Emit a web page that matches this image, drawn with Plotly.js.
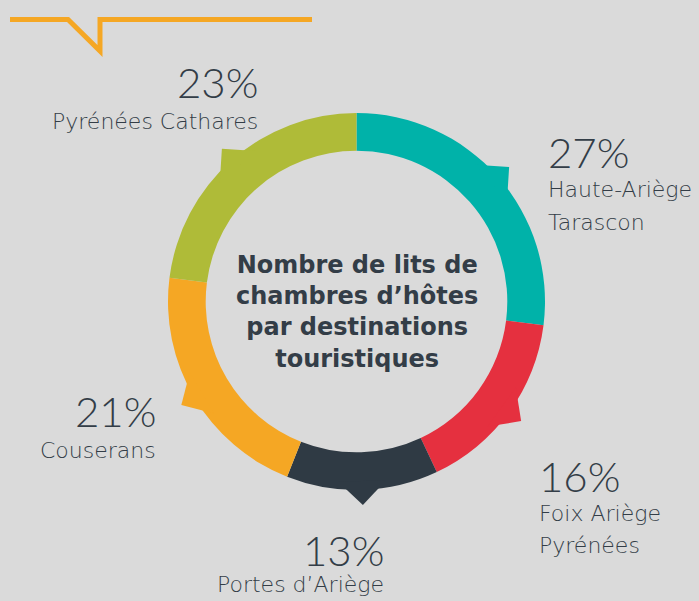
<!DOCTYPE html>
<html>
<head>
<meta charset="utf-8">
<script src="https://cdn.plot.ly/plotly-3.0.1.min.js"></script>
<style>html,body{margin:0;padding:0;background:#dadada;}#chart{width:699px;height:601px;}</style>
</head>
<body>
<div id="chart"></div>
<script>
// ---- data ----
const categories = ["Haute-Ariège Tarascon", "Foix Ariège Pyrénées", "Portes d’Ariège", "Couserans", "Pyrénées Cathares"];
const values = [27, 16, 13, 21, 23];
const percentLabels = ["27%", "16%", "13%", "21%", "23%"];
const nameLines = [["Haute-Ariège", "Tarascon"], ["Foix Ariège", "Pyrénées"], ["Portes d’Ariège"], ["Couserans"], ["Pyrénées Cathares"]];
const colors = ["#00b2a9", "#e5303f", "#2f3a44", "#f5a724", "#afbb38"];
const centerTitle = "Nombre de lits de<br>chambres d’hôtes<br>par destinations<br>touristiques";

// ---- layout geometry (pixels) ----
const W = 699, H = 601;
const cx = 356.5, cy = 301.5, R = 188.5;
const px = x => x / W;
const py = y => 1 - y / H;
const txt = "#333d47";
const PFONT = "Lato";
const LFONT = "DejaVu Sans";

// pointers at slice midpoints
const total = values.reduce((a, b) => a + b, 0);
const shapes = [];
let cum = 0;
values.forEach((v, i) => {
  const th = 2 * Math.PI * (cum + v / 2) / total;
  cum += v;
  const ux = Math.sin(th), uy = -Math.cos(th);
  const tx = Math.cos(th), ty = Math.sin(th);
  const d = R + 15, h = 24;
  const ax = cx + d * ux, ay = cy + d * uy;
  const bx = cx + (d - h) * ux, by = cy + (d - h) * uy;
  const p1 = [bx + h * tx, by + h * ty], p2 = [bx - h * tx, by - h * ty];
  shapes.push({
    type: "path", xref: "paper", yref: "paper", layer: "above",
    path: `M ${px(ax)} ${py(ay)} L ${px(p1[0])} ${py(p1[1])} L ${px(p2[0])} ${py(p2[1])} Z`,
    fillcolor: colors[i], line: {width: 0}
  });
});
// decorative orange header line
shapes.push({
  type: "path", xref: "paper", yref: "paper", layer: "above",
  path: `M ${px(10)} ${py(19.5)} L ${px(68)} ${py(19.5)} L ${px(100)} ${py(51)} L ${px(100)} ${py(19.5)} L ${px(312)} ${py(19.5)}`,
  line: {color: "#f5a724", width: 5}
});

// label positions
const labelPos = [
  {anchor: "left", x: 546, pctY: 152, lineY: [190, 222]},
  {anchor: "left", x: 537, pctY: 476, lineY: [513.5, 545.5]},
  {anchor: "center", x: 343.5, xl: 300, pctY: 550, lineY: [584]},
  {anchor: "right", x: 158, pctY: 411, lineY: [450.5]},
  {anchor: "right", x: 260, pctY: 82, lineY: [121.5]}
];
const annotations = [];
labelPos.forEach((p, i) => {
  annotations.push({
    xref: "paper", yref: "paper", x: px(p.x), y: py(p.pctY),
    xanchor: p.anchor, yanchor: "middle", showarrow: false,
    text: percentLabels[i],
    font: {family: PFONT, size: 42, color: txt, weight: 300}
  });
  nameLines[i].forEach((ln, j) => {
    annotations.push({
      xref: "paper", yref: "paper", x: px(p.xl !== undefined ? p.xl : p.x), y: py(p.lineY[j]),
      xanchor: p.anchor, yanchor: "middle", showarrow: false,
      text: ln,
      font: {family: LFONT, size: 22, color: txt, weight: 200}
    });
  });
});
annotations.push({
  xref: "paper", yref: "paper", x: px(357), y: py(312),
  xanchor: "center", yanchor: "middle", showarrow: false,
  text: "<b>" + centerTitle + "</b>",
  font: {family: LFONT, size: 24, color: txt}
});

const trace = {
  type: "pie",
  labels: categories,
  values: values,
  marker: {colors: colors, line: {width: 0}},
  hole: 0.8,
  sort: false,
  direction: "clockwise",
  rotation: 0,
  textinfo: "none",
  hoverinfo: "label+percent",
  domain: {x: [px(cx - R), px(cx + R)], y: [py(cy + R), py(cy - R)]}
};

Plotly.newPlot("chart", [trace], {
  width: W, height: H,
  margin: {l: 0, r: 0, t: 0, b: 0},
  paper_bgcolor: "#dadada",
  plot_bgcolor: "#dadada",
  showlegend: false,
  shapes: shapes,
  annotations: annotations
}, {displayModeBar: false, staticPlot: true});
</script>
</body>
</html>
